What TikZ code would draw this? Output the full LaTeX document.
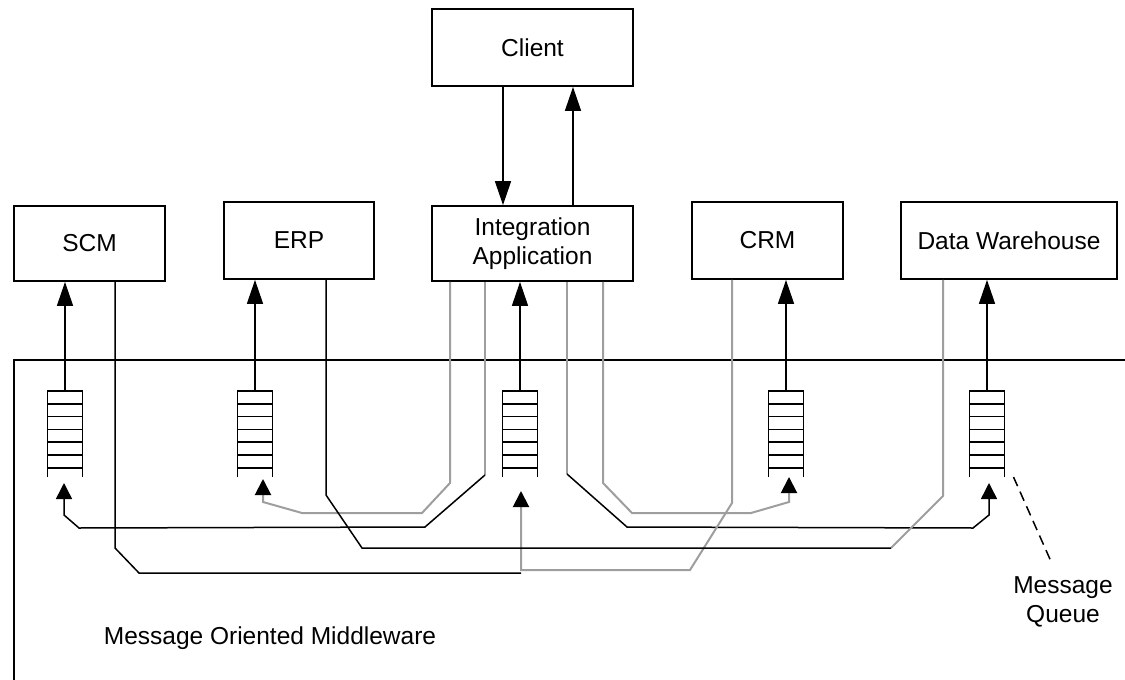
\documentclass[tikz,border=0pt]{standalone}
\usepackage{fontspec}
\setmainfont{Liberation Sans}
\usetikzlibrary{arrows.meta}

\tikzstyle{every node}=[font=\fontsize{24.5}{29}\selectfont]

\begin{document}
\begin{tikzpicture}[
            x=1pt, y=-1pt,
            box/.style={draw, line width=1.8pt, inner sep=0pt, align=center},
            wire/.style={line width=1.5pt},
            grey/.style={line width=2pt, black!38},
            arr/.style={-{Triangle[length=24pt,width=16pt]}},
            qarr/.style={-{Triangle[length=16pt,width=16pt,color=black]}},
            msgq/.pic={
                \draw[wire] (-17.5,86) -- (-17.5,0) -- (17.5,0) -- (17.5,86);
                \foreach \k in {1,...,6} \draw[wire] (-17.5,\k*12.8) -- (17.5,\k*12.8);
                \coordinate (-top) at (0,0);
                \coordinate (-br) at (17.5,86);}]
        \useasboundingbox (0,0) rectangle (1125,680);
        % applications
        \node[box, minimum width=201pt, minimum height=77pt] (client) at (532.5,47.5) {Client};
        \node[box, minimum width=201pt, minimum height=75pt] (integ) at (532.5,243.5) {Integration\\Application};
        \node[box, minimum width=151pt, minimum height=75pt] (scm) at (89.5,243.5) {SCM};
        \node[box, minimum width=150pt, minimum height=77pt] (erp) at (299,240.5) {ERP};
        \node[box, minimum width=151pt, minimum height=77pt] (crm) at (767.5,240.5) {CRM};
        \node[box, minimum width=216pt, minimum height=77pt] (dw) at (1009,240.5) {Data Warehouse};
        \draw[wire, arr] (client.south -| 503,0) -- (integ.north -| 503,0);
        \draw[wire, arr] (integ.north -| 573,0) -- (client.south -| 573,0);
        % middleware frame and queues
        \draw[wire] (14,680) -- (14,360) -- (1125,360);
        \pic (qscm) at (65,391) {msgq};
        \pic (qerp) at (255,391) {msgq};
        \pic (qint) at (520,391) {msgq};
        \pic (qcrm) at (786,391) {msgq};
        \pic (qdw) at (987,391) {msgq};
        \foreach \q/\b in {qscm/scm, qerp/erp, qint/integ, qcrm/crm, qdw/dw}
            \draw[wire, arr] (\q-top) -- (\b.south -| \q-top);
        % integration application out to the queues
        \draw[grey, qarr] (integ.south -| 450,0) -- (450,483) -- (422,513) -- (302,513) -- (263,502) -- (263,479);
        \draw[grey] (integ.south -| 485,0) -- (485,475) coordinate (ia2);
        \draw[wire, qarr] (ia2) -- (425,527) -- (79,528) -- (64,515) -- (64,483);
        \draw[grey] (integ.south -| 567,0) -- (567,474) coordinate (ia3);
        \draw[wire, qarr] (ia3) -- (627,527) -- (973,528) -- (989,515) -- (989,483);
        \draw[grey, qarr] (integ.south -| 603,0) -- (603,483) -- (632,513) -- (751,513) -- (789,502) -- (789,477);
        % applications in to the integration queue
        \draw[wire] (scm.south -| 115,0) -- (115,548) -- (139,573) -- (521,573);
        \draw[grey, qarr] (crm.south -| 732,0) -- (732,503) -- (690,570) -- (521,570) -- (521,491);
        \draw[grey] (dw.south -| 943,0) -- (943,496) -- (891,548) coordinate (dwj);
        \draw[wire] (erp.south -| 326,0) -- (326,495) -- (362,548) -- (dwj);
        % labels
        \node (mom) at (270,638) {Message Oriented Middleware};
        \node[align=center] (mq) at (1063,602) {Message\\Queue};
        \draw[wire, dash pattern=on 10pt off 6pt] ([xshift=9pt]qdw-br) -- ([shift={(-13pt,14pt)}]mq.north);
\end{tikzpicture}
\end{document}
